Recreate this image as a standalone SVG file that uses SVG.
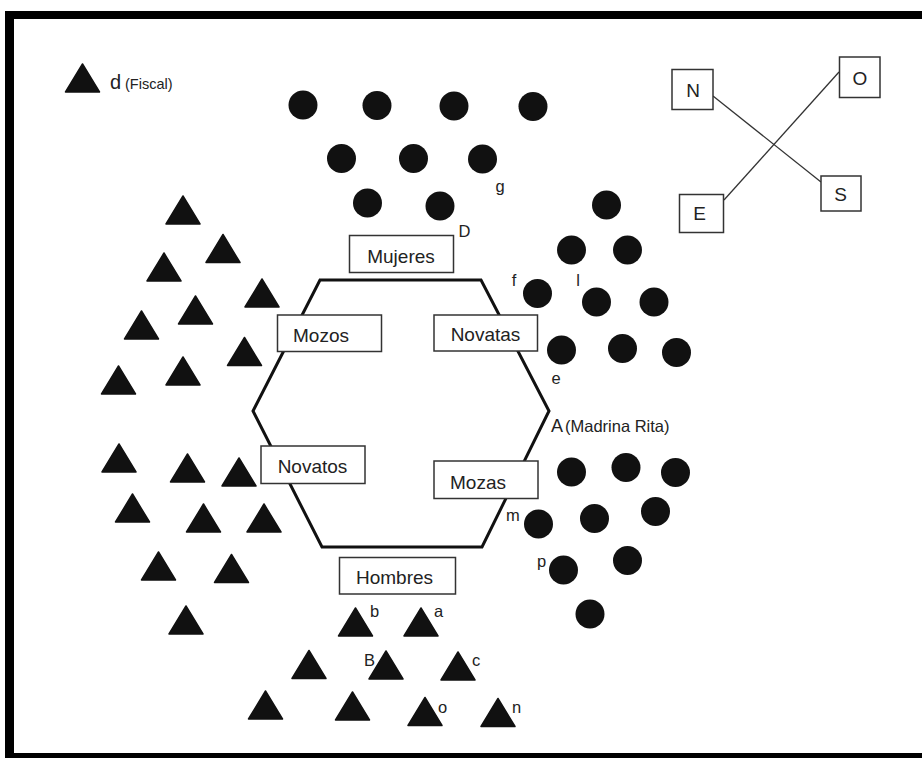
<svg xmlns="http://www.w3.org/2000/svg" xmlns:xlink="http://www.w3.org/1999/xlink" width="922" height="758" viewBox="0 0 922 758">
  <style>
    text { font-family: "Liberation Sans", Arial, sans-serif; fill: #222; }
    .lbl { font-size: 19px; }
    .tag { font-size: 16.5px; }
    .note { font-size: 14.5px; }
    .box { fill: #fff; stroke: #333; stroke-width: 1.5; }
    .dot { fill: #111; }
    .tri { fill: #111; }
    .hex { fill: none; stroke: #111; stroke-width: 3; stroke-linejoin: miter; }
    .wire { stroke: #333; stroke-width: 1.3; fill: none; }
  </style>
  <defs>
    <!-- filled triangle marker, centred on its apex x and its mid height -->
    <path id="tri" d="M0,-14 L17,14 L-17,14 Z" class="tri" stroke="#111" stroke-width="1.5" stroke-linejoin="round"/>
    <circle id="dot" r="14.5" class="dot"/>
  </defs>

  <rect width="922" height="758" fill="#fff"/>

  <!-- frame: left, top and bottom rules -->
  <rect x="5" y="11" width="9" height="747" fill="#000"/>
  <rect x="5" y="11" width="917" height="8" fill="#000"/>
  <rect x="5" y="753" width="917" height="5" fill="#000"/>

  <!-- compass connectors -->
  <g id="connectors">
    <line class="wire" x1="713" y1="96" x2="821" y2="182"/>
    <line class="wire" x1="839" y1="72" x2="724" y2="200"/>
  </g>

  <!-- compass -->
  <g id="compass-N"><rect class="box" x="672" y="69.5" width="41" height="40"/><text class="lbl" x="693" y="96.5" text-anchor="middle" font-size="18">N</text></g>
  <g id="compass-O"><rect class="box" x="839.5" y="57" width="40.5" height="40.5"/><text class="lbl" x="860" y="84.5" text-anchor="middle" font-size="18">O</text></g>
  <g id="compass-S"><rect class="box" x="821" y="176" width="40" height="35"/><text class="lbl" x="840.5" y="201" text-anchor="middle" font-size="18">S</text></g>
  <g id="compass-E"><rect class="box" x="679.5" y="194.5" width="44" height="38"/><text class="lbl" x="699.5" y="220" text-anchor="middle" font-size="18">E</text></g>

  <!-- fiscal -->
  <g id="fiscal">
    <use xlink:href="#tri" x="82.5" y="78"/>
    <text x="110" y="89" font-size="20">d</text>
    <text class="note" x="125" y="89">(Fiscal)</text>
  </g>

  <!-- hexagon ring -->
  <polygon id="ring" class="hex" points="320,280 481,280 549,411 482,547 322,547 253,411"/>

  <!-- labelled positions on the ring -->
  <g id="mujeres"><rect class="box" x="349.5" y="235.5" width="104" height="37"/><text class="lbl" x="401" y="263" text-anchor="middle">Mujeres</text></g>
  <g id="mozos"><rect class="box" x="277.5" y="315" width="104" height="36.5"/><text class="lbl" x="293" y="341.5">Mozos</text></g>
  <g id="novatas"><rect class="box" x="434" y="315" width="103.5" height="36"/><text class="lbl" x="485.5" y="341" text-anchor="middle">Novatas</text></g>
  <g id="novatos"><rect class="box" x="261" y="446" width="104" height="37.5"/><text class="lbl" x="312.5" y="472.5" text-anchor="middle">Novatos</text></g>
  <g id="mozas"><rect class="box" x="434" y="461" width="104" height="37.5"/><text class="lbl" x="450" y="489">Mozas</text></g>
  <g id="hombres"><rect class="box" x="339.5" y="557.5" width="116" height="36.5"/><text class="lbl" x="394.5" y="584" text-anchor="middle">Hombres</text></g>

  <!-- women (circles), top group -->
  <g id="women-top">
    <use xlink:href="#dot" x="303" y="105"/>
    <use xlink:href="#dot" x="377" y="105.5"/>
    <use xlink:href="#dot" x="454" y="106"/>
    <use xlink:href="#dot" x="533" y="106.5"/>
    <use xlink:href="#dot" x="341.5" y="158.5"/>
    <use xlink:href="#dot" x="413.5" y="158.5"/>
    <use xlink:href="#dot" x="482.5" y="159"/>
    <use xlink:href="#dot" x="367.5" y="203"/>
    <use xlink:href="#dot" x="440" y="206"/>
    <text class="tag" x="500" y="192" text-anchor="middle">g</text>
    <text class="tag" x="464.5" y="237" text-anchor="middle">D</text>
  </g>

  <!-- women (circles), right group -->
  <g id="women-right">
    <use xlink:href="#dot" x="606.5" y="205"/>
    <use xlink:href="#dot" x="571.5" y="250"/>
    <use xlink:href="#dot" x="627.5" y="250"/>
    <use xlink:href="#dot" x="537.5" y="293.5"/>
    <use xlink:href="#dot" x="596.5" y="302"/>
    <use xlink:href="#dot" x="654" y="302"/>
    <use xlink:href="#dot" x="561.5" y="350"/>
    <use xlink:href="#dot" x="622.5" y="348.5"/>
    <use xlink:href="#dot" x="676.5" y="352.5"/>
    <use xlink:href="#dot" x="571.5" y="472"/>
    <use xlink:href="#dot" x="626" y="467.5"/>
    <use xlink:href="#dot" x="675.5" y="472.5"/>
    <use xlink:href="#dot" x="538.5" y="524"/>
    <use xlink:href="#dot" x="594.5" y="518.5"/>
    <use xlink:href="#dot" x="655.5" y="511.5"/>
    <use xlink:href="#dot" x="563.5" y="570"/>
    <use xlink:href="#dot" x="627.5" y="560.5"/>
    <use xlink:href="#dot" x="590" y="614"/>
    <text class="tag" x="514" y="286" text-anchor="middle">f</text>
    <text class="tag" x="578" y="286" text-anchor="middle">l</text>
    <text class="tag" x="556" y="384" text-anchor="middle">e</text>
    <text x="551" y="432" font-size="18">A</text>
    <text x="565" y="432" font-size="16.5">(Madrina Rita)</text>
    <text class="tag" x="506" y="521">m</text>
    <text class="tag" x="537" y="567">p</text>
  </g>

  <!-- men (triangles), left group -->
  <g id="men-left">
    <use xlink:href="#tri" x="183" y="210"/>
    <use xlink:href="#tri" x="223" y="248.5"/>
    <use xlink:href="#tri" x="164" y="267"/>
    <use xlink:href="#tri" x="262" y="293"/>
    <use xlink:href="#tri" x="195.5" y="310"/>
    <use xlink:href="#tri" x="141.5" y="325"/>
    <use xlink:href="#tri" x="244.5" y="351.5"/>
    <use xlink:href="#tri" x="183" y="371"/>
    <use xlink:href="#tri" x="118.5" y="380"/>
    <use xlink:href="#tri" x="119" y="458"/>
    <use xlink:href="#tri" x="187.5" y="468"/>
    <use xlink:href="#tri" x="239" y="472"/>
    <use xlink:href="#tri" x="132.5" y="508"/>
    <use xlink:href="#tri" x="203.5" y="518"/>
    <use xlink:href="#tri" x="264" y="518"/>
    <use xlink:href="#tri" x="158.5" y="566"/>
    <use xlink:href="#tri" x="231.5" y="568.5"/>
    <use xlink:href="#tri" x="186" y="620"/>
  </g>

  <!-- men (triangles), bottom group -->
  <g id="men-bottom">
    <use xlink:href="#tri" x="355.5" y="622"/>
    <use xlink:href="#tri" x="421" y="622"/>
    <use xlink:href="#tri" x="309" y="664.5"/>
    <use xlink:href="#tri" x="386" y="665"/>
    <use xlink:href="#tri" x="458" y="666"/>
    <use xlink:href="#tri" x="265.5" y="705"/>
    <use xlink:href="#tri" x="352.5" y="706"/>
    <use xlink:href="#tri" x="425" y="711.5"/>
    <use xlink:href="#tri" x="498" y="712.5"/>
    <text class="tag" x="370" y="617">b</text>
    <text class="tag" x="434" y="617">a</text>
    <text class="tag" x="364" y="666">B</text>
    <text class="tag" x="472" y="666">c</text>
    <text class="tag" x="438" y="713">o</text>
    <text class="tag" x="512" y="713">n</text>
  </g>
</svg>
